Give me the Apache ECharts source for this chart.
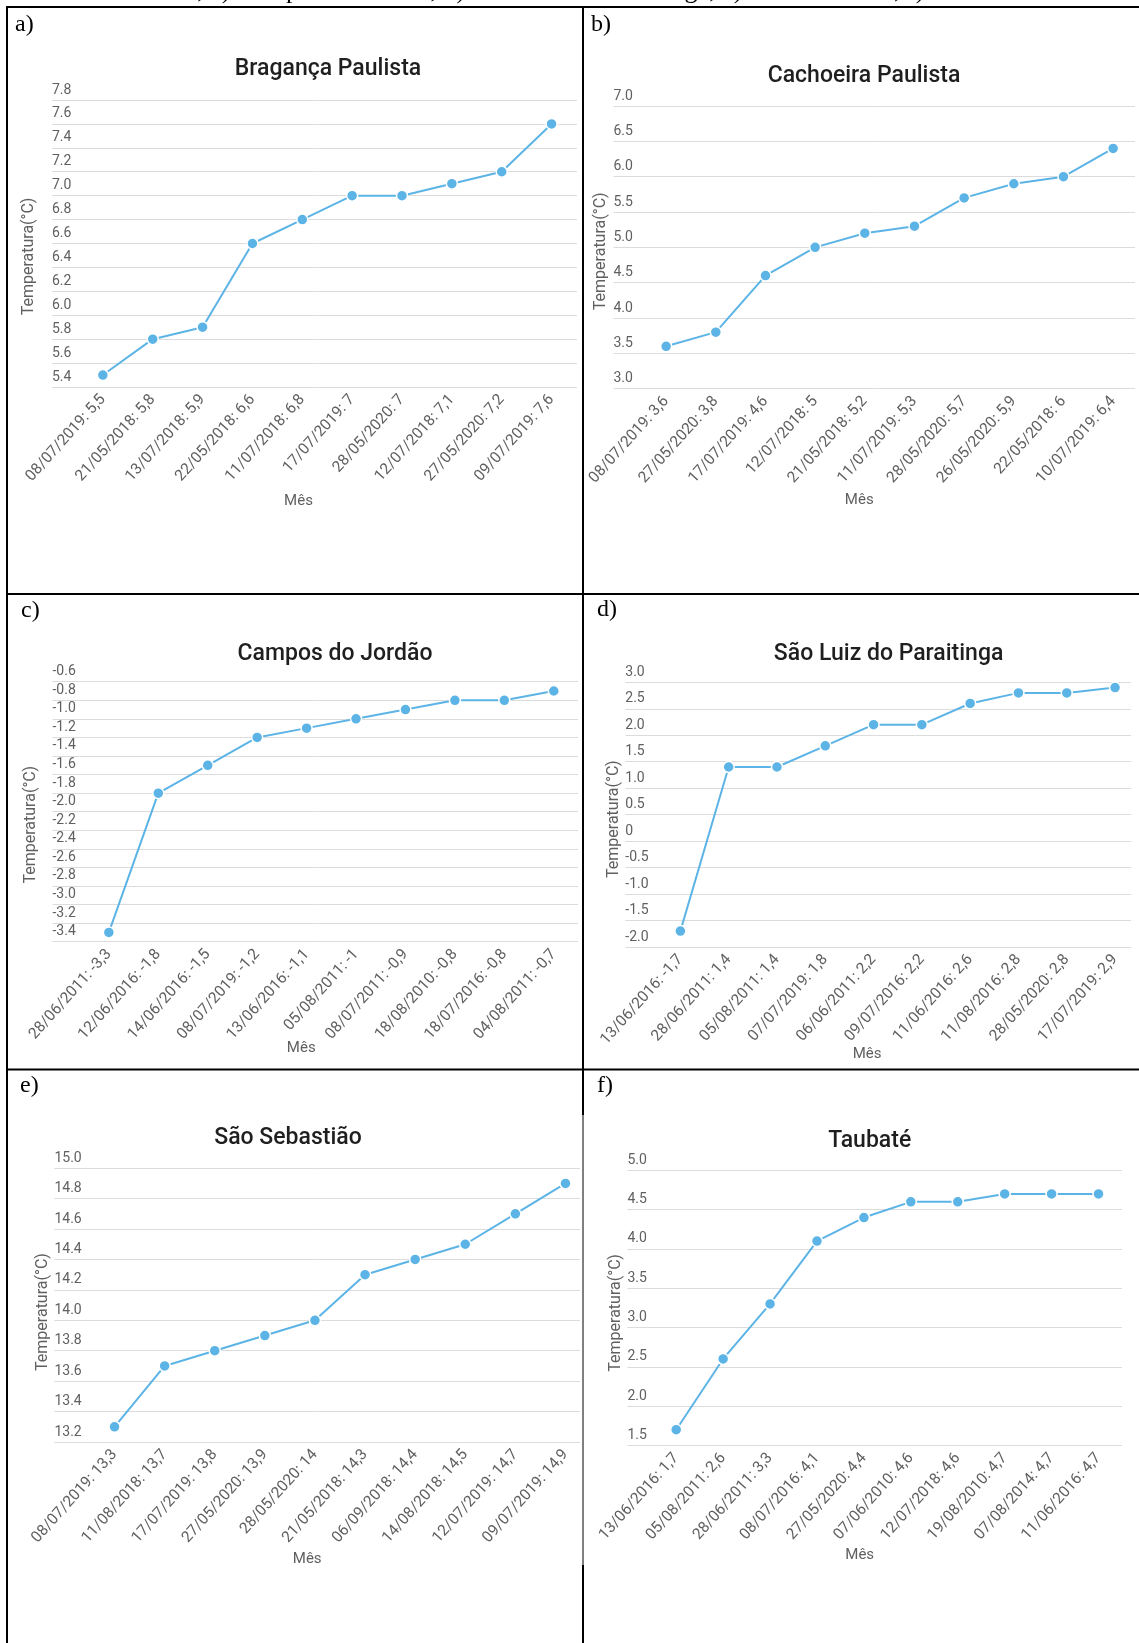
<!DOCTYPE html>
<html>
<head>
<meta charset="utf-8">
<script src="https://cdn.jsdelivr.net/npm/echarts@6/dist/echarts.min.js"></script>
<style>
html,body{margin:0;padding:0;background:#fff;}
#chart{width:1139px;height:1643px;}
</style>
</head>
<body>
<div id="chart"></div>
<script>
// ---------- DATA ----------
const titles = ['Bragança Paulista', 'Cachoeira Paulista', 'Campos do Jordão', 'São Luiz do Paraitinga', 'São Sebastião', 'Taubaté'];
const panelTags = ['a)', 'b)', 'c)', 'd)', 'e)', 'f)'];
const yAxisName = 'Temperatura(°C)';
const xAxisName = 'Mês';
const captionText = 'Cachoeira Paulista, c) Campos do Jordão, d) São Luiz do Paraitinga, e) São Sebastião, f) Taubaté.';

const catsA = ['08/07/2019: 5,5', '21/05/2018: 5,8', '13/07/2018: 5,9', '22/05/2018: 6,6', '11/07/2018: 6,8', '17/07/2019: 7', '28/05/2020: 7', '12/07/2018: 7,1', '27/05/2020: 7,2', '09/07/2019: 7,6'];
const valsA = [5.5, 5.8, 5.9, 6.6, 6.8, 7, 7, 7.1, 7.2, 7.6];
const yTicksA = [5.4, 7.8, 0.2];

const catsB = ['08/07/2019: 3,6', '27/05/2020: 3,8', '17/07/2019: 4,6', '12/07/2018: 5', '21/05/2018: 5,2', '11/07/2019: 5,3', '28/05/2020: 5,7', '26/05/2020: 5,9', '22/05/2018: 6', '10/07/2019: 6,4'];
const valsB = [3.6, 3.8, 4.6, 5, 5.2, 5.3, 5.7, 5.9, 6, 6.4];
const yTicksB = [3.0, 7.0, 0.5];

const catsC = ['28/06/2011: -3,3', '12/06/2016: -1,8', '14/06/2016: -1,5', '08/07/2019: -1,2', '13/06/2016: -1,1', '05/08/2011: -1', '08/07/2011: -0,9', '18/08/2010: -0,8', '18/07/2016: -0,8', '04/08/2011: -0,7'];
const valsC = [-3.3, -1.8, -1.5, -1.2, -1.1, -1, -0.9, -0.8, -0.8, -0.7];
const yTicksC = [-3.4, -0.6, 0.2];

const catsD = ['13/06/2016: -1,7', '28/06/2011: 1,4', '05/08/2011: 1,4', '07/07/2019: 1,8', '06/06/2011: 2,2', '09/07/2016: 2,2', '11/06/2016: 2,6', '11/08/2016: 2,8', '28/05/2020: 2,8', '17/07/2019: 2,9'];
const valsD = [-1.7, 1.4, 1.4, 1.8, 2.2, 2.2, 2.6, 2.8, 2.8, 2.9];
const yTicksD = [-2.0, 3.0, 0.5];

const catsE = ['08/07/2019: 13,3', '11/08/2018: 13,7', '17/07/2019: 13,8', '27/05/2020: 13,9', '28/05/2020: 14', '21/05/2018: 14,3', '06/09/2018: 14,4', '14/08/2018: 14,5', '12/07/2019: 14,7', '09/07/2019: 14,9'];
const valsE = [13.3, 13.7, 13.8, 13.9, 14, 14.3, 14.4, 14.5, 14.7, 14.9];
const yTicksE = [13.2, 15.0, 0.2];

const catsF = ['13/06/2016: 1,7', '05/08/2011: 2,6', '28/06/2011: 3,3', '08/07/2016: 4,1', '27/05/2020: 4,4', '07/06/2010: 4,6', '12/07/2018: 4,6', '19/08/2010: 4,7', '07/08/2014: 4,7', '11/06/2016: 4,7'];
const valsF = [1.7, 2.6, 3.3, 4.1, 4.4, 4.6, 4.6, 4.7, 4.7, 4.7];
const yTicksF = [1.5, 5.0, 0.5];

// ---------- LAYOUT / STYLE ----------
const panels = [
  {cats: catsA, vals: valsA, y: yTicksA, left: 52,    top: 100,    w: 525,   h: 287,   xMin: -1.02, xMax: 9.51, title: [328, 69],    tag: [15, 25],   yGap: 15, yShift: 13, xGap: 107, xShift: 16},
  {cats: catsB, vals: valsB, y: yTicksB, left: 613.5, top: 106,    w: 521.5, h: 282.7, xMin: -1.06, xMax: 9.44, title: [864, 76],    tag: [591, 25],  yGap: 4.5, yShift: 4, xGap: 104, xShift: 15},
  {cats: catsC, vals: valsC, y: yTicksC, left: 52.5,  top: 681.7,  w: 525.5, h: 260,   xMin: -1.14, xMax: 9.49, title: [335, 654],   tag: [21, 611],  yGap: 14, yShift: 13, xGap: 99, xShift: 14},
  {cats: catsD, vals: valsD, y: yTicksD, left: 625.3, top: 682.3,  w: 505.7, h: 264.7, xMin: -1.14, xMax: 9.33, title: [888.6, 654], tag: [597, 610], yGap: 3.3, yShift: 4.5, xGap: 100, xShift: 11},
  {cats: catsE, vals: valsE, y: yTicksE, left: 54.4,  top: 1168.2, w: 525.6, h: 273.8, xMin: -1.2,  xMax: 9.29, title: [288, 1138],  tag: [20, 1086], yGap: 3.4, yShift: 7, xGap: 110, xShift: 10},
  {cats: catsF, vals: valsF, y: yTicksF, left: 627.4, top: 1170.4, w: 494.6, h: 275,   xMin: -1.04, xMax: 9.5,  title: [869.7, 1141], tag: [597, 1086], yGap: 3, yShift: 5, xGap: 102, xShift: 15}
];

const FONT = 'Roboto, "Noto Sans", sans-serif';
const SERIF = '"Liberation Serif", "DejaVu Serif", serif';
const GRAY = '#606060';
const LINE = '#5cb4e6';

const grid = [], xAxis = [], yAxis = [], series = [], title = [], graphic = [];

panels.forEach((p, i) => {
  grid.push({left: p.left, top: p.top, width: p.w, height: p.h, containLabel: false});
  xAxis.push({
    type: 'value', gridIndex: i, min: p.xMin, max: p.xMax,
    name: xAxisName, nameLocation: 'middle', nameGap: p.xGap, nameMoveOverlap: false,
    nameTextStyle: {fontFamily: FONT, fontSize: 15, color: GRAY, padding: [0, p.xShift * 2, 0, 0]},
    axisLine: {show: false}, axisTick: {show: false}, splitLine: {show: false},
    axisLabel: {
      customValues: p.cats.map((c, k) => k),
      formatter: v => (p.cats[v] !== undefined ? p.cats[v] : ''),
      rotate: 48, margin: 10, fontFamily: FONT, fontSize: 15.5, color: GRAY
    }
  });
  yAxis.push({
    type: 'value', gridIndex: i, min: p.y[0], max: p.y[1], interval: p.y[2],
    name: yAxisName, nameLocation: 'middle', nameRotate: 90, nameGap: p.yGap, nameMoveOverlap: false,
    nameTextStyle: {fontFamily: FONT, fontSize: 16, color: GRAY, padding: [0, p.yShift * 2, 0, 0]},
    axisLine: {show: false}, axisTick: {show: false},
    splitLine: {show: true, lineStyle: {color: '#dcdcdc', width: 1}},
    axisLabel: {
      inside: true, margin: 0, align: 'left', verticalAlign: 'bottom', lineHeight: 14,
      padding: [0, 0, 3, 0], fontFamily: FONT, fontSize: 14, color: GRAY,
      formatter: v => (Math.abs(v) < 1e-9 ? '0' : v.toFixed(1))
    }
  });
  series.push({
    type: 'line', xAxisIndex: i, yAxisIndex: i,
    data: p.vals.map((v, k) => [k, v]),
    symbol: 'circle', symbolSize: 11, clip: false,
    lineStyle: {color: LINE, width: 2},
    itemStyle: {color: LINE, borderColor: '#ffffff', borderWidth: 1.5},
    animation: false
  });
  title.push({
    text: titles[i], left: p.title[0], top: p.title[1], padding: 0,
    textAlign: 'center', textVerticalAlign: 'middle',
    textStyle: {fontFamily: FONT, fontSize: 23, fontWeight: 500, color: '#1f1f1f'}
  });
  graphic.push({
    type: 'text', x: p.tag[0], y: p.tag[1],
    style: {text: panelTags[i], font: '24px ' + SERIF, fill: '#000', verticalAlign: 'middle', align: 'left'}
  });
});

// table borders
const borderLines = [
  [6, 7, 1139, 7, 2],
  [6, 594, 1139, 594, 2],
  [6, 1069.5, 1139, 1069.5, 2],
  [7, 6, 7, 1643, 2],
  [583, 6, 583, 1115, 2],
  [583, 1115, 583, 1565, 1],
  [583, 1565, 583, 1643, 2]
];
borderLines.forEach(b => {
  graphic.push({type: 'line', shape: {x1: b[0], y1: b[1], x2: b[2], y2: b[3]}, style: {stroke: '#000', lineWidth: b[4]}, silent: true});
});
// caption line cut by the top edge
graphic.push({type: 'text', x: 3, y: -8.5, style: {text: captionText, font: '26px ' + SERIF, fill: '#000', verticalAlign: 'middle'}});

const chart = echarts.init(document.getElementById('chart'), null, {renderer: 'canvas'});
chart.setOption({
  backgroundColor: '#ffffff',
  animation: false,
  title, grid, xAxis, yAxis, series, graphic
});
</script>
</body>
</html>
